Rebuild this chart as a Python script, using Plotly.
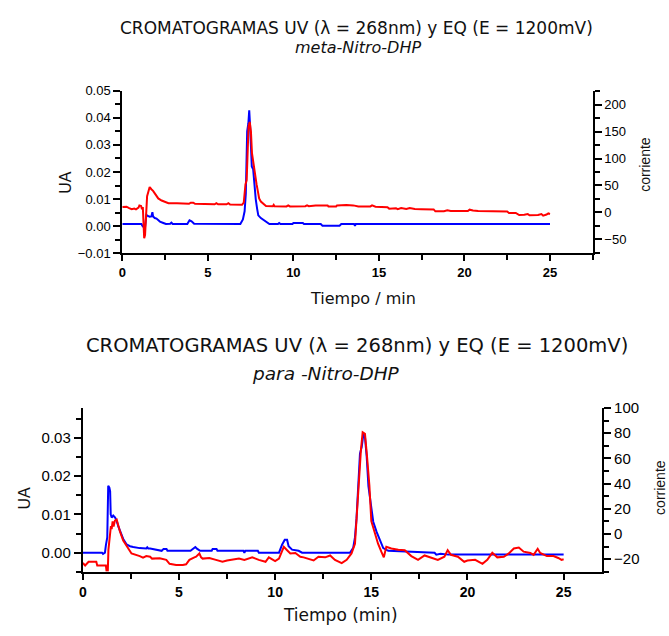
import plotly.graph_objects as go

W, H = 669, 636

# ---------------- DATA ----------------
# Top chart: meta-Nitro-DHP
meta_uv_t = [0, 1.12, 1.17, 1.27, 1.31, 1.36, 1.41, 1.5, 1.6, 1.7, 1.76, 1.8, 1.9, 2.0, 2.2, 2.4, 2.55, 2.8, 2.87, 2.95,
             3.8, 3.93, 4.05, 4.2, 6.9, 7.05, 7.15, 7.22, 7.3, 7.37, 7.42, 7.47, 7.52, 7.57, 7.65, 7.72, 7.8, 7.88, 7.95,
             8.1, 8.3, 8.5, 8.6, 9.1, 9.17, 9.25, 9.95, 10.0, 10.55, 10.62, 11.6, 11.7, 12.7, 12.8, 13.55, 13.6, 13.65, 25.0]
meta_uv = [0.0008, 0.0008, 0.0002, -0.0005, -0.0014, 0.001, 0.0041, 0.0038, 0.0035, 0.0036, 0.0052, 0.0036, 0.003,
           0.0028, 0.0017, 0.0012, 0.0008, 0.0009, 0.0013, 0.0008, 0.0008, 0.0022, 0.0018, 0.0009, 0.0008, 0.0025,
           0.0055, 0.012, 0.035, 0.038, 0.0428, 0.037, 0.028, 0.022, 0.021, 0.015, 0.010, 0.0065, 0.004, 0.003,
           0.0022, 0.0012, 0.0008, 0.0008, 0.0012, 0.0008, 0.0008, 0.0012, 0.0012, 0.0008, 0.0008, 0.0002, 0.0002,
           0.0008, 0.0008, 0.0002, 0.0008, 0.0008]

meta_eq_t = [0, 0.25, 0.4, 0.55, 0.7, 0.8, 0.95, 1.0, 1.1, 1.15, 1.2, 1.25, 1.28, 1.33, 1.4, 1.45, 1.52, 1.6, 1.7,
             1.8, 1.95, 2.1, 2.3, 2.5, 2.7, 3.2, 3.5, 3.9, 4.0, 4.15, 4.25, 5.0, 5.4, 5.5, 5.6, 6.1, 6.2, 6.3, 7.0,
             7.1, 7.15, 7.2, 7.27, 7.32, 7.38, 7.45, 7.52, 7.58, 7.62, 7.68, 7.72, 7.78, 7.85, 7.92, 8.0, 8.1, 8.2,
             8.4, 8.8, 8.85, 8.9, 9.6, 9.7, 9.8, 10.7, 10.8, 10.9, 11.3, 12.0, 12.05, 12.5, 12.55, 13.1, 13.5, 13.8,
             14.5, 14.6, 14.8, 15.5, 15.6, 16.0, 16.1, 16.3, 16.6, 16.8, 17.1, 17.5, 18.2, 18.3, 18.8, 19.0, 19.2,
             20.2, 20.3, 20.5, 20.8, 22.5, 22.6, 23.0, 23.2, 23.5, 23.7, 23.8, 24.3, 24.5, 24.6, 24.8, 24.9, 25.0]
meta_eq = [10, 10.5, 8, 6, 7, 5.5, 9, 13, 12, 6, 10, -30, -48, -42, 0, 30, 38, 47, 43, 40, 33, 26, 22, 19, 17,
           17, 16, 16, 18, 18, 16, 15.5, 15, 17, 15, 15, 17, 14.5, 14, 18, 40, 52, 60, 120, 160, 168, 150, 110,
           100, 95, 80, 65, 52, 40, 26, 20, 17, 12, 11.5, 14, 11.5, 11, 13, 11, 11.5, 13, 11.5, 13, 13, 11, 11, 13,
           13.5, 13, 11, 11, 13, 10.5, 9.5, 7, 7.5, 6, 8, 6.5, 8, 6.5, 6, 5.5, 2, 2, 4, 2.5, 2.5, 5, 3.5, 2.5, 1.5,
           -1, -1, -5, -4.5, -3, -5.5, -5, -3, -6, -4, -2, -3]

# Bottom chart: para-Nitro-DHP
para_uv_t = [0, 1.0, 1.05, 1.15, 1.2, 1.27, 1.32, 1.38, 1.42, 1.45, 1.5, 1.58, 1.68, 1.76, 1.85, 1.95, 2.1, 2.27,
             2.45, 2.62, 2.95, 3.3, 3.35, 3.4, 3.5, 4.1, 4.2, 4.35, 4.4, 5.6, 5.75, 5.85, 5.95, 6.1, 6.7, 6.75, 6.95,
             7.0, 8.35, 8.4, 8.45, 9.1, 9.15, 10.2, 10.36, 10.5, 10.62, 10.7, 10.88, 11.22, 11.4, 13.89, 14.06,
             14.15, 14.23, 14.32, 14.41, 14.5, 14.59, 14.67, 14.76, 14.85, 14.99, 15.1, 15.27, 15.45, 15.62, 15.88,
             16.74, 18.29, 18.38, 18.6, 19.0, 25.0]
para_uv = [0, 0, -0.0003, 0, 0.002, 0.004, 0.0175, 0.017, 0.016, 0.010, 0.0092, 0.0097, 0.0092, 0.0083, 0.0068,
           0.0055, 0.0036, 0.0022, 0.0017, 0.0015, 0.0012, 0.0011, 0.0014, 0.0011, 0.0011, 0.0005, 0.0010, 0.0010,
           0.0005, 0.0005, 0.0012, 0.0015, 0.001, 0.0005, 0.0005, 0.001, 0.001, 0.0005, 0.0005, 0, 0.0005, 0.0005,
           0, 0, 0.0021, 0.0034, 0.0034, 0.0017, 0.0008, 0.0005, 0, 0, 0.0013, 0.004, 0.0089, 0.0174, 0.0259,
           0.0276, 0.031, 0.0302, 0.0251, 0.0174, 0.0115, 0.0081, 0.0055, 0.003, 0.0012, 0.0005, 0.0003, 0,
           -0.0005, -0.0003, -0.0005, -0.0005]

para_eq_t = [0, 0.12, 0.3, 0.5, 0.7, 0.75, 1.0, 1.2, 1.23, 1.3, 1.33, 1.41, 1.46, 1.5, 1.55, 1.6, 1.67, 1.76, 1.85,
             1.93, 2.1, 2.27, 2.4, 2.53, 2.96, 3.13, 3.3, 3.5, 3.6, 4.0, 4.34, 4.51, 4.85, 5.2, 5.37, 5.54, 5.8,
             5.89, 6.06, 6.15, 6.23, 6.58, 6.92, 7.26, 7.5, 7.78, 8.12, 8.4, 8.81, 9.15, 9.5, 9.67, 9.85, 10.0,
             10.2, 10.45, 10.62, 10.79, 11.05, 11.31, 11.48, 11.74, 12.0, 12.25, 12.6, 12.86, 13.11, 13.46, 13.72,
             13.97, 14.15, 14.23, 14.35, 14.46, 14.55, 14.67, 14.77, 14.9, 15.0, 15.18, 15.35, 15.52, 15.65, 15.78,
             16.04, 16.4, 16.74, 17.08, 17.43, 17.77, 18.12, 18.46, 18.8, 18.97, 19.14, 19.5, 19.83, 20.0, 20.4,
             20.78, 21.03, 21.29, 21.55, 21.89, 22.15, 22.41, 22.67, 22.92, 23.27, 23.44, 23.65, 23.78, 24.13,
             24.47, 24.72, 24.89, 25.0]
para_eq = [-23, -25, -22, -21.8, -22, -25, -25, -25, -29, -29, -12.6, 2.5, 6.4, 4, 10, 6, 10.7, 11.5, 6, 2.1,
           -5.2, -9, -12, -15.4, -17.5, -18.7, -17.5, -18, -19.5, -19.2, -20.5, -23.6, -24.6, -24.6, -24, -20.5,
           -18.5, -18, -15.4, -18.5, -19.5, -19, -20.5, -22, -21, -20.5, -19.5, -20.5, -18.5, -20.5, -22, -18.5,
           -20.5, -21.5, -19.5, -10.2, -12.8, -15.4, -15, -18, -18.5, -20, -21, -18, -18.5, -17, -20.5, -23.1,
           -20.5, -15.4, -7.7, 11.5, 43.6, 66.7, 80.8, 79.5, 62.8, 38.5, 10.2, 0, -7.7, -14, -18.5, -10.2, -11.5,
           -12.5, -12.8, -17.5, -20.5, -17, -18.5, -20.5, -18, -12.8, -16.5, -18, -22, -21, -20.5, -23.6, -20.5,
           -14.9, -18.5, -18, -15.4, -11.5, -10.7, -14, -15, -16.5, -11.7, -15, -17.5, -17.5, -19, -20.5, -20]

x_ticks = [0, 5, 10, 15, 20, 25]

# ---------------- FIGURE ----------------
fig = go.Figure()
RED, BLUE = "#ff0000", "#0000ff"
fig.add_trace(go.Scatter(x=meta_eq_t, y=meta_eq, xaxis="x", yaxis="y2", mode="lines",
                         line=dict(color=RED, width=2), showlegend=False))
fig.add_trace(go.Scatter(x=meta_uv_t, y=meta_uv, xaxis="x", yaxis="y", mode="lines",
                         line=dict(color=BLUE, width=2), showlegend=False))
fig.add_trace(go.Scatter(x=para_eq_t, y=para_eq, xaxis="x2", yaxis="y4", mode="lines",
                         line=dict(color=RED, width=2), showlegend=False))
fig.add_trace(go.Scatter(x=para_uv_t, y=para_uv, xaxis="x2", yaxis="y3", mode="lines",
                         line=dict(color=BLUE, width=2), showlegend=False))

def px(x):
    return x / W

def py(y):
    return 1 - y / H

tickfont = dict(family="Liberation Sans, Arial", size=13, color="black")
boldfont = dict(family="Liberation Sans, Arial", size=13, color="black", weight="bold")
axcommon = dict(showline=True, linewidth=2, linecolor="black", showgrid=False, zeroline=False,
                ticks="outside", tickcolor="black", tickwidth=2)

fig.update_layout(
    width=W, height=H, margin=dict(l=0, r=0, t=0, b=0),
    paper_bgcolor="white", plot_bgcolor="white", showlegend=False,
    xaxis=dict(domain=[px(119), px(592.3)], range=[0, 27.5], anchor="y", tickvals=x_ticks,
               ticklen=6, tickfont=boldfont,
               minor=dict(dtick=2.5, tick0=0, ticks="outside", ticklen=5, tickwidth=2, tickcolor="black"),
               **axcommon),
    yaxis=dict(domain=[py(251), py(84)], range=[-0.01, 0.05], anchor="x", dtick=0.01,
               tickformat=".2f", ticklen=7, tickfont=tickfont,
               minor=dict(dtick=0.005, ticks="outside", ticklen=5, tickwidth=2, tickcolor="black"),
               **axcommon),
    yaxis2=dict(range=[-76, 226], overlaying="y", side="right", anchor="x", dtick=50,
                ticklen=7, tickfont=tickfont,
                minor=dict(dtick=25, ticks="outside", ticklen=5, tickwidth=2, tickcolor="black"),
                **axcommon),
    xaxis2=dict(domain=[px(79.3), px(601.7)], range=[0, 27], anchor="y3", tickvals=x_ticks,
                ticklen=6, tickfont=dict(boldfont, size=14),
                minor=dict(dtick=2.5, tick0=0, ticks="outside", ticklen=5, tickwidth=2, tickcolor="black"),
                **axcommon),
    yaxis3=dict(domain=[py(578.3), py(410)], range=[-0.005, 0.0378], anchor="x2",
                tickvals=[0, 0.01, 0.02, 0.03], tickformat=".2f", ticklen=7,
                tickfont=dict(tickfont, size=15),
                minor=dict(dtick=0.005, tick0=0, ticks="outside", ticklen=5, tickwidth=2, tickcolor="black"),
                **axcommon),
    yaxis4=dict(range=[-30, 100], overlaying="y3", side="right", anchor="x2", dtick=20, tick0=0,
                ticklen=7, tickfont=dict(tickfont, size=15),
                minor=dict(dtick=10, ticks="outside", ticklen=5, tickwidth=2, tickcolor="black"),
                **axcommon),
)

title_font = "DejaVu Sans"
label_font = "Liberation Sans, Arial"

def ann(text, x, y, size, family, angle=0, italic=False):
    fig.add_annotation(text=text, x=px(x), y=py(y), xref="paper", yref="paper",
                       showarrow=False, xanchor="center", yanchor="middle", textangle=angle,
                       font=dict(family=family, size=size, color="#111111",
                                 style="italic" if italic else "normal"))

ann("CROMATOGRAMAS UV (λ = 268nm) y EQ (E = 1200mV)", 355, 20, 17, title_font)
ann("meta-Nitro-DHP", 356, 40, 16, title_font, italic=True)
ann("Tiempo / min", 361, 297, 16, title_font)
ann("UA", 62, 178, 16, label_font, angle=-90)
ann("corriente", 645, 160, 14, label_font, angle=-90)

ann("CROMATOGRAMAS UV (λ = 268nm) y EQ (E = 1200mV)", 355.5, 346, 19.5, title_font)
ann("para -Nitro-DHP", 323.5, 375, 18.5, title_font, italic=True)
ann("Tiempo (min)", 339, 623, 17, title_font)
ann("UA", 21, 502, 16, label_font, angle=-90)
ann("corriente", 660, 492, 14, label_font, angle=-90)

fig.write_html("out.html")
